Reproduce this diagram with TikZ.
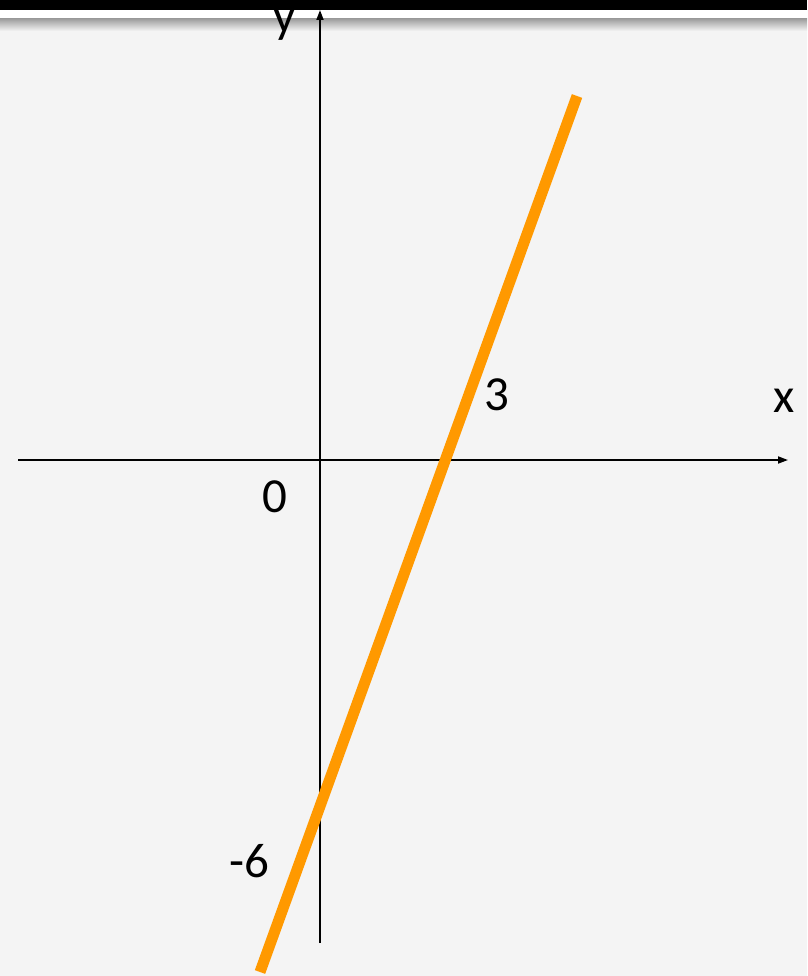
\documentclass[tikz,border=0pt]{standalone}
\usepackage{fontspec}
\setmainfont{Carlito}
\usetikzlibrary{arrows.meta}

\definecolor{paper}{HTML}{F4F4F4}
\definecolor{lineorange}{HTML}{FF9900}

\begin{document}
\begin{tikzpicture}[x=1pt,y=-1pt,>={Triangle[length=10pt,width=7pt]},
  lab/.style={anchor=base,inner sep=0pt,font=\fontsize{49}{59}\selectfont}]
  \useasboundingbox (0,0) rectangle (807,976);
  % page background and the top band
  \fill[paper] (0,0) rectangle (807,976);
  \fill[white] (0,10) rectangle (807,19);
  \shade[top color=gray!75,bottom color=paper] (0,19) rectangle (807,31);
  % axes
  \coordinate (xstart) at (18,460);
  \coordinate (xend) at (788,460);
  \coordinate (ybot) at (320,943);
  \coordinate (ytop) at (320,10);
  \draw[line width=1.8pt,->] (xstart) -- (xend);
  \draw[line width=1.8pt,->] (ybot) -- (ytop);
  % the line through (3,0) and (0,-6)
  \coordinate (lo) at (260,972);
  \coordinate (hi) at (577,96);
  \draw[lineorange,line width=11pt] (lo) -- (hi);
  % labels
  \foreach \n/\t/\px/\py in {labx/x/784/412,lab3/3/497/410,lab0/0/275/512,labm6/-6/249/877}
    \node[lab] (\n) at (\px,\py) {\t};
  \node[lab] (laby) at (285,33) {y};
  \fill[black] (0,0) rectangle (807,10);
\end{tikzpicture}
\end{document}
